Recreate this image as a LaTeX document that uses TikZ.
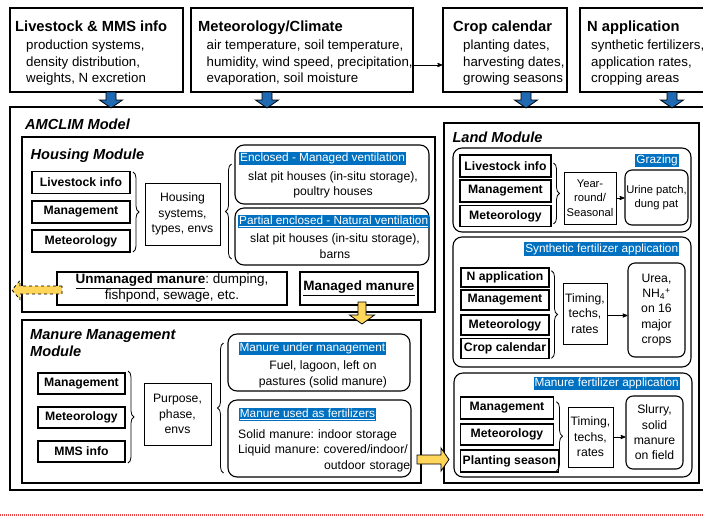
\documentclass[tikz,border=0pt]{standalone}
\usepackage{fontspec}
\setmainfont{Liberation Sans}
\usepackage{xcolor}
\usetikzlibrary{positioning,arrows,decorations.pathreplacing}
\definecolor{labelblue}{RGB}{0,112,192}
\definecolor{arrowblue}{RGB}{31,106,178}
\definecolor{gold}{RGB}{255,214,90}
\definecolor{edgered}{RGB}{232,70,70}
\newcommand{\topttl}{\fontsize{14.7}{17}\selectfont\bfseries}
\newcommand{\topbody}{\fontsize{13.3}{16.5}\selectfont}
\newcommand{\modttl}{\fontsize{14.6}{17}\selectfont\bfseries\itshape}
\newcommand{\inbody}{\fontsize{12.2}{15.4}\selectfont}
\newcommand{\lblfont}{\fontsize{11.8}{14}\selectfont}
\newcommand{\smbody}{\fontsize{11.2}{14.5}\selectfont}
\frenchspacing

\begin{document}
\begin{tikzpicture}[x=1pt,y=-1pt,>=stealth',
	topbox/.style={draw,line width=1.4pt,inner sep=0pt},
	module/.style={draw,line width=1.4pt,inner sep=0pt},
	ibox/.style={draw,line width=1.2pt,inner sep=0pt,font=\inbody\bfseries},
	pbox/.style={draw,line width=0.9pt,inner sep=0pt,align=center,font=\inbody},
	rbox/.style={draw,line width=1.1pt,rounded corners=9pt,inner sep=0pt,align=center,font=\inbody},
	ttl/.style={anchor=base west,inner sep=0pt,font=\topttl},
	tbody/.style={anchor=north west,inner sep=0pt,align=left,font=\topbody},
	modt/.style={anchor=base west,inner sep=0pt,font=\modttl},
	txt/.style={inner sep=0pt,align=center,font=\inbody},
	lbl/.style={fill=labelblue,text=white,font=\lblfont,inner sep=1pt,text height=8.6pt,text depth=2.5pt},
	brace/.style={decorate,decoration={brace,amplitude=6pt},line width=0.8pt},
	link/.style={->,line width=0.8pt},
	bluefill/.style={draw,line width=0.8pt,fill=arrowblue},
	yelfill/.style={draw,line width=0.8pt,fill=gold}
]
\useasboundingbox (0,0) rectangle (703,517);

% input data
\node[topbox,minimum width=173pt,minimum height=84pt] (lmms) at (96.5,50) {};
\node[topbox,minimum width=222pt,minimum height=84pt] (climate) at (302,50) {};
\node[topbox,minimum width=124pt,minimum height=84pt] (cropcal) at (505,50) {};
\node[topbox,minimum width=135pt,minimum height=84pt] (napp) at (647.5,50) {};
\node[ttl] (lmmsT) at (15,31) {Livestock \& MMS info};
\node[ttl] (climateT) at (198,31) {Meteorology/Climate};
\node[ttl] (cropcalT) at (453,31) {Crop calendar};
\node[ttl] (nappT) at (587,31) {N application};
\node[tbody] (lmmsB) at (26,40) {production systems,\\density distribution,\\weights, N excretion};
\node[tbody] (climateB) at (206.5,40) {air temperature, soil temperature,\\humidity, wind speed, precipitation,\\evaporation, soil moisture};
\node[tbody] (cropcalB) at (463,40) {planting dates,\\harvesting dates,\\growing seasons};
\node[tbody] (nappB) at (591,40) {synthetic fertilizers,\\application rates,\\cropping areas};
\draw[link] ([yshift=-15pt]climate.east) -- ([yshift=-15pt]cropcal.west);

% model
\node[module,line width=1.6pt,minimum width=702pt,minimum height=383pt] (model) at (361,298.5) {};
\node[modt] (modelT) at (25,129.5) {AMCLIM Model};

% housing
\node[module,minimum width=413pt,minimum height=175pt] (housing) at (228.5,224.5) {};
\node[modt] (housingT) at (30.5,159.5) {Housing Module};
\node[ibox,minimum width=98pt,minimum height=22pt] (hlive) at (81,182.5) {Livestock info};
\node[ibox,minimum width=98pt,minimum height=22pt] (hman) at (81,212) {Management};
\node[ibox,minimum width=98pt,minimum height=22pt] (hmet) at (81,241) {Meteorology};
\draw[brace] (133,172) -- (133,252);
\node[pbox,minimum width=75pt,minimum height=62pt] (hsys) at (182.5,214) {Housing\\systems,\\types, envs};
\draw[brace] (231.5,259) -- (231.5,164);
\node[rbox,minimum width=194pt,minimum height=59pt] (encl) at (332,174.5) {};
\node[lbl,anchor=west] (enclL) at (239,158.3) {\underline{Enclosed - Managed ventilation}};
\node[txt] (enclB) at (333,185) {slat pit houses (in-situ storage),\\poultry houses};
\node[rbox,minimum width=194pt,minimum height=57pt] (partial) at (332,236.5) {};
\node[lbl,anchor=west] (partialL) at (238,221.7) {\underline{Partial enclosed - Natural ventilation}};
\node[txt] (partialB) at (335,246) {slat pit houses (in-situ storage),\\barns};
\node[pbox,line width=1.1pt,font=\fontsize{13.5}{16}\selectfont,minimum width=230pt,minimum height=33pt] (unman) at (172,288.5) {\underline{\textbf{Unmanaged manure}}: dumping,\\fishpond, sewage, etc.};
\node[pbox,line width=1.1pt,font=\fontsize{13.5}{16}\selectfont\bfseries,minimum width=118pt,minimum height=33pt] (man) at (359,288.5) {\underline{Managed manure}};

% manure management
\node[module,minimum width=399pt,minimum height=163pt] (mms) at (221.5,401.5) {};
\node[modt,anchor=north west,align=left] (mmsT) at (30,329.5) {Manure Management\\Module};
\node[ibox,minimum width=87pt,minimum height=21pt] (mman) at (81.5,383.5) {Management};
\node[ibox,minimum width=87pt,minimum height=21pt] (mmet) at (81.5,417.5) {Meteorology};
\node[ibox,minimum width=87pt,minimum height=21pt] (minfo) at (81.5,451.5) {MMS info};
\draw[brace] (128,371) -- (128,463);
\node[pbox,minimum width=67pt,minimum height=62pt] (purpose) at (177.5,414) {Purpose,\\phase,\\envs};
\draw[brace] (223.5,473) -- (223.5,343);
\node[rbox,minimum width=182pt,minimum height=57pt] (undermg) at (319,362.5) {};
\node[lbl,anchor=west] (undermgL) at (238.3,348.3) {\underline{Manure under management}};
\node[txt] (undermgB) at (323,374.5) {Fuel, lagoon, left on\\pastures (solid manure)};
\node[rbox,minimum width=183pt,minimum height=77pt] (asfert) at (319.5,438.5) {};
\node[lbl,anchor=west] (asfertL) at (238.7,414.5) {\underline{Manure used as fertilizers}};
\node[txt,anchor=north west,text width=172pt,align=left] (asfertB) at (238,429.3) {Solid manure: indoor storage\\Liquid manure: covered/indoor/\\\hspace*{\fill}outdoor storage\hspace*{10pt}};

% land
\node[module,minimum width=255pt,minimum height=360pt] (land) at (571.5,303) {};
\node[modt] (landT) at (452.3,142.2) {Land Module};
\node[rbox,minimum width=238pt,minimum height=84pt] (graze) at (572,190) {};
\node[lbl,anchor=east] (grazeL) at (679,160.5) {Grazing};
\node[ibox,minimum width=91pt,minimum height=22pt] (glive) at (505.5,166) {Livestock info};
\node[ibox,minimum width=91pt,minimum height=22pt] (gman) at (505.5,191) {Management};
\node[ibox,minimum width=91pt,minimum height=21pt] (gmet) at (505.5,216.2) {Meteorology};
\draw[brace] (553.5,163) -- (553.5,224);
\node[pbox,font=\smbody,minimum width=52pt,minimum height=52pt] (yr) at (590,198) {Year-\\round/\\Seasonal};
\node[rbox,font=\smbody,rounded corners=7pt,minimum width=63pt,minimum height=55pt] (urine) at (656.5,197.5) {Urine patch,\\dung pat};
\draw[link] (yr.east) -- (yr.east -| urine.west);

\node[rbox,minimum width=238pt,minimum height=130pt] (synth) at (572,302) {};
\node[lbl,anchor=east] (synthL) at (679.3,249) {Synthetic fertilizer application};
\node[ibox,minimum width=88pt,minimum height=19pt] (snapp) at (505,277.5) {N application};
\node[ibox,minimum width=88pt,minimum height=20pt] (sman) at (505,300) {Management};
\node[ibox,minimum width=88pt,minimum height=20pt] (smet) at (505,325) {Meteorology};
\node[ibox,minimum width=88pt,minimum height=20pt] (scrop) at (505,348.5) {Crop calendar};
\draw[brace] (551.5,270.7) -- (551.5,358.3);
\node[pbox,minimum width=44pt,minimum height=61pt] (tim1) at (585,313.5) {Timing,\\techs,\\rates};
\node[rbox,rounded corners=7pt,minimum width=57pt,minimum height=94pt] (urea) at (656.5,310) {Urea,\\NH\textsubscript{4}\textsuperscript{+}\\on 16\\major\\crops};
\draw[link] ([yshift=-2pt]tim1.east) -- ([yshift=-2pt]tim1.east -| urea.west);

\node[rbox,minimum width=238pt,minimum height=104pt] (mfert) at (573,425) {};
\node[lbl,anchor=east] (mfertL) at (680,383.3) {Manure fertilizer application};
\node[ibox,minimum width=92.6pt,minimum height=22pt] (fman) at (507,408) {Management};
\node[ibox,minimum width=92.6pt,minimum height=21pt] (fmet) at (507,434.5) {Meteorology};
\node[ibox,minimum width=97.6pt,minimum height=22pt] (fplant) at (509.5,461) {Planting season};
\draw[brace] (556.5,401.7) -- (556.5,470.7);
\node[pbox,minimum width=45pt,minimum height=60pt] (tim2) at (590.5,437) {Timing,\\techs,\\rates};
\node[rbox,rounded corners=7pt,minimum width=57pt,minimum height=73pt] (slurry) at (654.5,432.5) {Slurry,\\solid\\manure\\on field};
\draw[link] (tim2.east) -- (tim2.east -| slurry.west);

% flows
\foreach \x in {111,267,526,672}
	\draw[bluefill] (\x-5,92) -- (\x+5,92) -- (\x+5,100) -- (\x+11.5,100) -- (\x,108) -- (\x-11.5,100) -- (\x-5,100) -- cycle;
\draw[yelfill,dashed] (62,286) -- (20,286) -- (20,280.5) -- (12,290) -- (20,299.5) -- (20,294) -- (62,294) -- cycle;
\draw[yelfill] (358,302) -- (366,302) -- (366,315) -- (374.5,315) -- (362,324) -- (349.5,315) -- (358,315) -- cycle;
\draw[yelfill] (417,455) -- (441,455) -- (441,448) -- (449,459.5) -- (441,471) -- (441,464) -- (417,464) -- cycle;

\draw[edgered,line width=1.2pt,dash pattern=on 1.2pt off 0.8pt] (0,515) -- (703,515);
\end{tikzpicture}
\end{document}
